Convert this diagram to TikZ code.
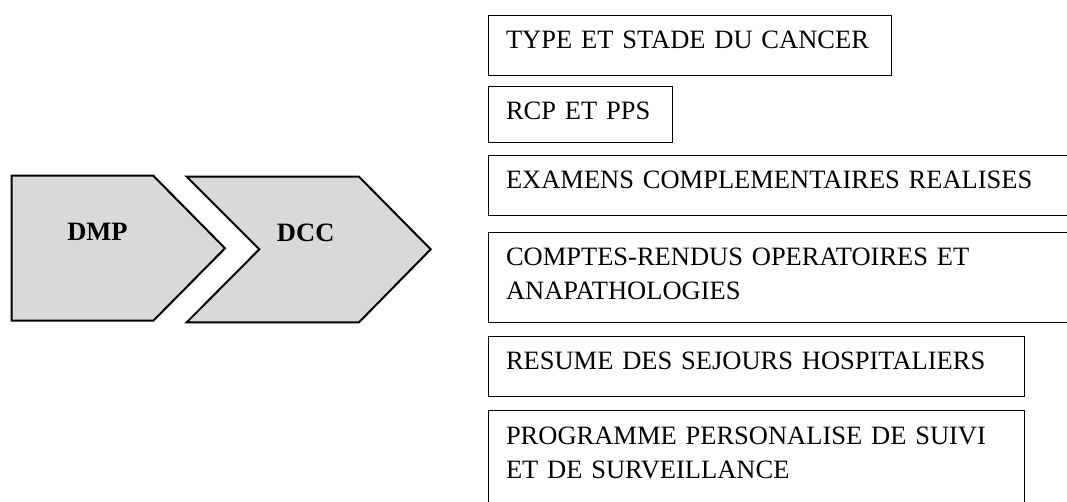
\documentclass[tikz,border=0pt]{standalone}
\usepackage{fontspec}
\setmainfont{Liberation Serif}
\definecolor{chevgray}{RGB}{217,217,217}

\begin{document}
\begin{tikzpicture}[x=1pt,y=-1pt,
    item/.style={draw,line width=0.9pt,anchor=north west,outer sep=0pt,align=left,
      inner xsep=18pt,inner ysep=16pt,text height=17.5pt,
      font=\fontsize{26.5}{34}\selectfont},
    chevron/.style={draw,line width=2pt,fill=chevgray},
    chevlabel/.style={anchor=base,font=\fontsize{26.5}{34}\selectfont\bfseries}]

    \useasboundingbox (0,0) rectangle (1067,501);
    \clip (0,0) rectangle (1067,501);

    % the two chevrons
    \draw[chevron] (11.7,175.7) -- (153.3,175.7) -- (225,248.3) -- (153.3,320.7) -- (11.7,320.7) -- cycle;
    \draw[chevron] (186.7,176.7) -- (359,176.7) -- (430.7,249.3) -- (359,322.3) -- (186.7,322.3) -- (259.3,249.3) -- cycle;
    \node[chevlabel] (dmp) at (97.5,240) {DMP};
    \node[chevlabel] (dcc) at (305.7,241.7) {DCC};

    % contents of the DCC
    \node[item,text width=367pt,text depth=10.5pt] (type) at (488,15) {TYPE ET STADE DU CANCER};
    \node[item,text width=148pt,text depth=6.8pt] (rcp) at (488,86) {RCP ET PPS};
    \node[item,text width=600pt,text depth=10.5pt] (exam) at (488,155) {EXAMENS COMPLEMENTAIRES REALISES};
    \node[item,text width=600pt,text depth=40.5pt] (cro) at (488,232) {COMPTES-RENDUS OPERATOIRES ET\\ANAPATHOLOGIES};
    \node[item,text width=500pt,text depth=10.5pt] (sejour) at (488,336) {RESUME DES SEJOURS HOSPITALIERS};
    \node[item,text width=500pt,text depth=60pt] (suivi) at (488,410.7) {PROGRAMME PERSONALISE DE SUIVI\\ET DE SURVEILLANCE};
\end{tikzpicture}
\end{document}
